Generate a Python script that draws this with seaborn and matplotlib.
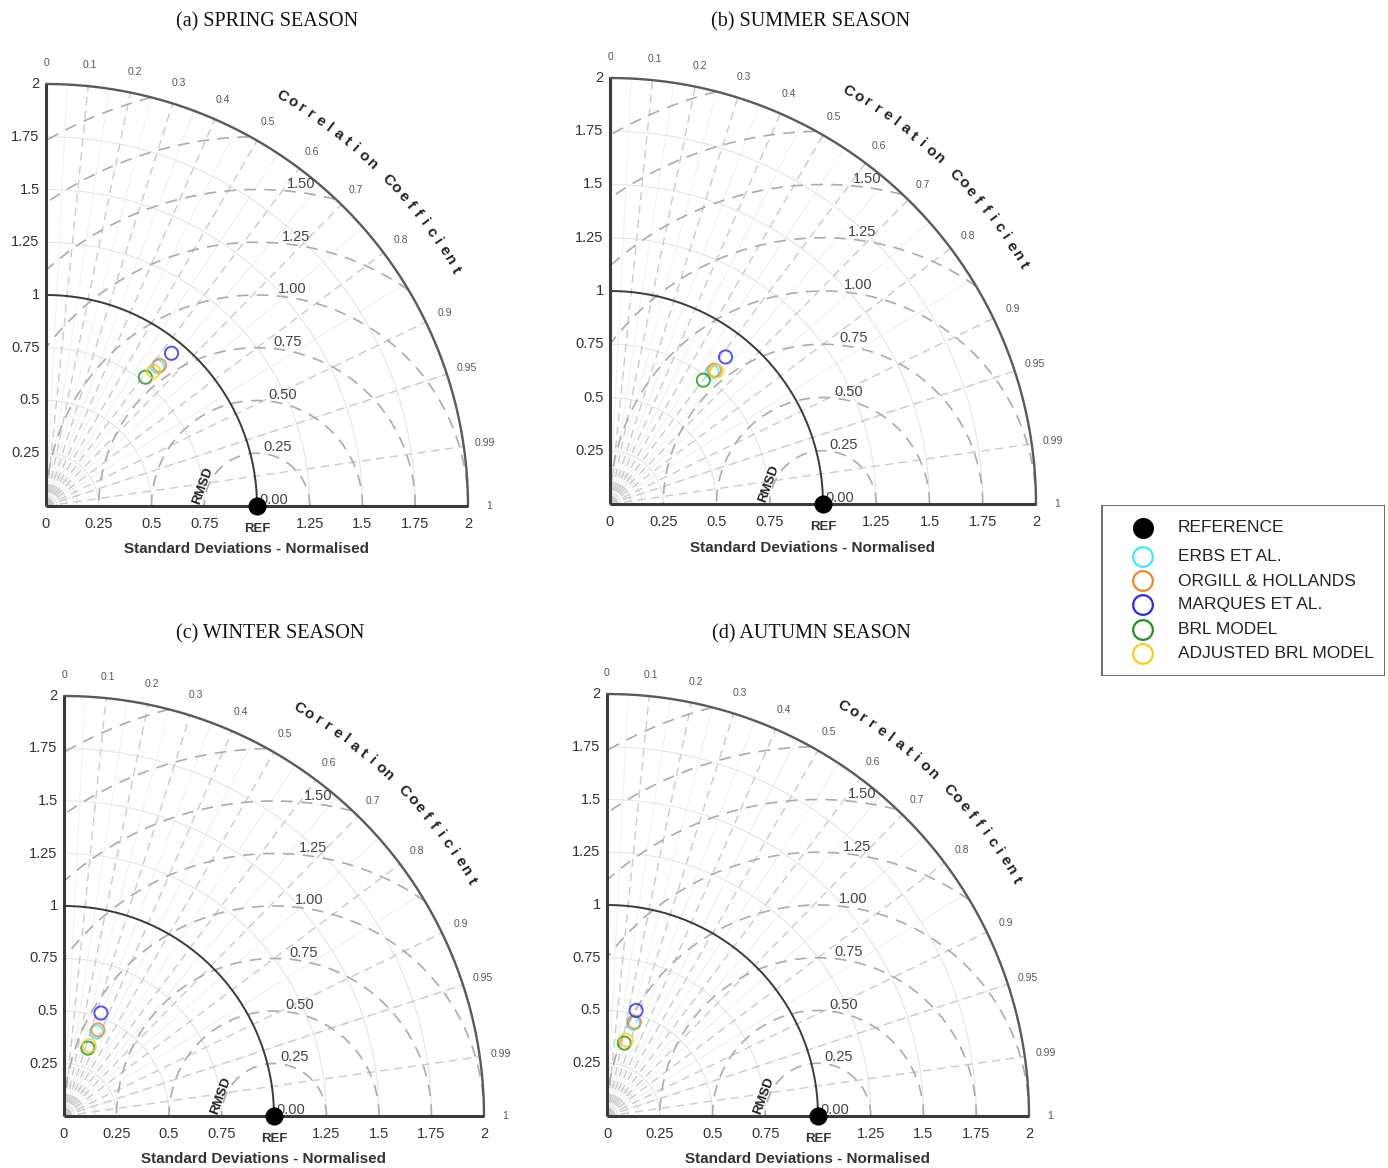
import numpy as np
import pandas as pd
import matplotlib
matplotlib.use("Agg")
import matplotlib.pyplot as plt
import seaborn as sns
from matplotlib.patches import Rectangle

# ---------------- data ----------------
season_titles = ["(a) SPRING SEASON", "(b) SUMMER SEASON", "(c) WINTER SEASON", "(d) AUTUMN SEASON"]
models = ["ERBS ET AL.", "ORGILL & HOLLANDS", "MARQUES ET AL.", "BRL MODEL", "ADJUSTED BRL MODEL"]
model_colors = ["#3ee8f2", "#e8892c", "#2a2ae6", "#229122", "#f7cd1e"]

# normalised standard deviation and correlation per model (order as in `models`)
std_spring = [0.846, 0.857, 0.937, 0.771, 0.817]
corr_spring = [0.626, 0.628, 0.635, 0.611, 0.624]
std_summer = [0.784, 0.797, 0.878, 0.728, 0.800]
corr_summer = [0.612, 0.615, 0.618, 0.602, 0.625]
std_winter = [0.429, 0.441, 0.521, 0.343, 0.356]
corr_winter = [0.361, 0.367, 0.338, 0.332, 0.337]
std_autumn = [0.457, 0.464, 0.519, 0.355, 0.371]
corr_autumn = [0.273, 0.280, 0.266, 0.231, 0.243]

std_ticks = [0, 0.25, 0.5, 0.75, 1, 1.25, 1.5, 1.75, 2]
std_tick_labels = ["0", "0.25", "0.5", "0.75", "1", "1.25", "1.5", "1.75", "2"]
corr_ticks = [0, 0.1, 0.2, 0.3, 0.4, 0.5, 0.6, 0.7, 0.8, 0.9, 0.95, 0.99, 1]
corr_tick_labels = ["0", "0.1", "0.2", "0.3", "0.4", "0.5", "0.6", "0.7", "0.8", "0.9", "0.95", "0.99", "1"]
rmsd_levels = [0.25, 0.5, 0.75, 1.0, 1.25, 1.5, 1.75, 2.0, 2.25, 2.5]
rmsd_labels = ["0.00", "0.25", "0.50", "0.75", "1.00", "1.25", "1.50"]

# ---------------- style ----------------
sns.set_theme(style="white")
plt.rcParams["font.family"] = ["Liberation Sans", "DejaVu Sans"]

W, H = 1388, 1168
fig = plt.figure(figsize=(W / 100, H / 100), dpi=100)

XMIN, XMAX, YMIN, YMAX = -0.3, 2.45, -0.3, 2.4

# panel placement (origin pixel x, origin pixel y, pixels per unit)
panels = [(46, 506, 211), (610, 504, 213), (64, 1116, 210), (607, 1116, 211)]
title_pos = [(267, 22), (811, 22), (270, 634), (811, 634)]
stds = [std_spring, std_summer, std_winter, std_autumn]
corrs = [corr_spring, corr_summer, corr_winter, corr_autumn]

TXT = "#333333"


def draw_panel(ax, std, corr):
    ax.set_xlim(XMIN, XMAX)
    ax.set_ylim(YMIN, YMAX)
    ax.axis("off")
    th = np.linspace(0, np.pi / 2, 500)

    # faint fine radial lines
    for c in np.arange(0.05, 1.0, 0.1):
        a = np.arccos(c)
        ax.plot([0, 2 * np.cos(a)], [0, 2 * np.sin(a)], color="#efefef", lw=0.7, zorder=1)
    # faint std arcs
    for r in [0.05, 0.1, 0.15, 0.25, 0.5, 0.75, 1.25, 1.5, 1.75]:
        ax.plot(r * np.cos(th), r * np.sin(th), color="#e4e4e4", lw=0.8, zorder=1)
    # correlation dashed radials
    for c in corr_ticks[1:-1]:
        a = np.arccos(c)
        ax.plot([0, 2 * np.cos(a)], [0, 2 * np.sin(a)], color="#cacaca", lw=1.0,
                dashes=(6, 4), zorder=2)
    # RMSD dashed arcs centred at REF
    phi = np.linspace(0, np.pi, 800)
    for r in rmsd_levels:
        x = 1 + r * np.cos(phi)
        y = r * np.sin(phi)
        mask = (np.hypot(x, y) > 2.0) | (x < 0)
        x = np.where(mask, np.nan, x)
        y = np.where(mask, np.nan, y)
        ax.plot(x, y, color="#ababab", lw=1.2, dashes=(7, 5), zorder=2)
    # reference std arc and outer arc
    ax.plot(np.cos(th), np.sin(th), color="#3a3a3a", lw=1.4, zorder=3)
    ax.plot(2 * np.cos(th), 2 * np.sin(th), color="#5a5a5a", lw=1.7, zorder=3)
    # axes lines
    ax.plot([0, 0], [0, 2], color="#3a3a3a", lw=2.2, zorder=4, solid_capstyle="butt")
    ax.plot([0, 2], [0, 0], color="#3a3a3a", lw=2.2, zorder=4, solid_capstyle="butt")

    # std tick labels
    for v, lab in zip(std_ticks, std_tick_labels):
        if v == 1:
            ax.text(1.0, -0.108, "REF", ha="center", va="center", fontsize=9.5,
                    fontweight="bold", color=TXT)
        else:
            ax.text(v, -0.085, lab, ha="center", va="center", fontsize=10.5, color=TXT)
        if v > 0:
            ax.text(-0.03, v, lab, ha="right", va="center", fontsize=10.5, color=TXT)
    ax.text(0.95, -0.205, "Standard Deviations - Normalised", ha="center", va="center",
            fontsize=11, fontweight="bold", color=TXT)

    # correlation tick labels
    for c, lab in zip(corr_ticks, corr_tick_labels):
        a = np.arccos(c)
        ax.text(2.1 * np.cos(a), 2.1 * np.sin(a), lab, ha="center", va="center",
                fontsize=7.5, color="#555555")

    # correlation title along the arc
    word = "Correlation Coefficient"
    angs = np.linspace(60, 30, len(word))
    for ch, ang in zip(word, angs):
        a = np.deg2rad(ang)
        ax.text(2.24 * np.cos(a), 2.24 * np.sin(a), ch, rotation=ang - 90,
                ha="center", va="center", fontsize=11, fontweight="bold", color="#222222",
                rotation_mode="anchor")

    # RMSD labels
    for r, lab in zip([0.0, 0.25, 0.5, 0.75, 1.0, 1.25, 1.5], rmsd_labels):
        a = np.deg2rad(85)
        ax.text(1 + r * np.cos(a) + 0.01, r * np.sin(a) + 0.03, lab, ha="left", va="center",
                fontsize=10.5, color="#444444", zorder=5)
    ax.text(0.745, 0.095, "RMSD", rotation=70, ha="center", va="center", fontsize=9.5,
            fontweight="bold", color="#222222")

    # model points
    df = pd.DataFrame({
        "model": models,
        "x": np.array(std) * np.array(corr),
        "y": np.array(std) * np.sin(np.arccos(np.array(corr))),
    })
    sns.scatterplot(data=df, x="x", y="y", hue="model", hue_order=models,
                    palette=dict(zip(models, model_colors)), s=90, linewidth=1.4,
                    legend=False, ax=ax, zorder=6, clip_on=False)
    coll = ax.collections[-1]
    fc = coll.get_facecolors()
    coll.set_edgecolors(fc)
    coll.set_facecolors("none")
    coll.set_alpha(0.8)

    # reference point
    sns.scatterplot(x=[1.0], y=[0.0], color="black", s=170, linewidth=0, ax=ax,
                    zorder=7, clip_on=False, legend=False)


for (ox, oy, s), std, corr, title, (tx, ty) in zip(panels, stds, corrs, season_titles, title_pos):
    left = (ox + XMIN * s) / W
    bottom = (H - (oy - YMIN * s)) / H
    width = (XMAX - XMIN) * s / W
    height = (YMAX - YMIN) * s / H
    ax = fig.add_axes([left, bottom, width, height])
    draw_panel(ax, std, corr)
    fig.text(tx / W, 1 - ty / H, title, ha="center", va="center", fontsize=14.5,
             family=["Liberation Serif", "DejaVu Serif"], color="#111111")

# ---------------- legend ----------------
lx0, ly0, lx1, ly1 = 1101, 505, 1385, 676
lax = fig.add_axes([lx0 / W, 1 - ly1 / H, (lx1 - lx0) / W, (ly1 - ly0) / H])
lax.set_xlim(0, lx1 - lx0)
lax.set_ylim(ly1 - ly0, 0)
lax.axis("off")
lax.add_patch(Rectangle((0.5, 0.5), lx1 - lx0 - 1, ly1 - ly0 - 1, fill=False,
                        edgecolor="#555555", lw=1.2))
rows = [23, 52, 76, 100, 125, 149]
lax.scatter([42], [rows[0]], s=200, color="black", zorder=3)
lax.text(77, rows[0], "REFERENCE", va="center", ha="left", fontsize=12.5, color="#222222")
for yy, m, c in zip(rows[1:], models, model_colors):
    lax.scatter([42], [yy], s=200, facecolors="none", edgecolors=c, linewidths=1.6, zorder=3)
    lax.text(77, yy, m, va="center", ha="left", fontsize=12.5, color="#222222")

fig.savefig("out.png", dpi=100, facecolor="white")
